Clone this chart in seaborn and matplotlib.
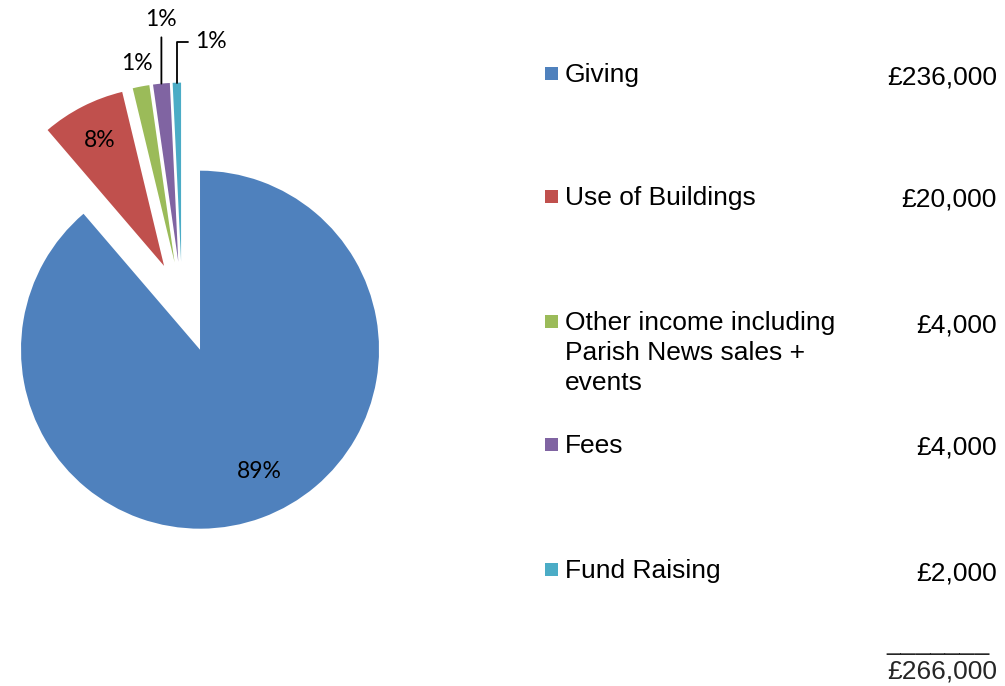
import numpy as np
import matplotlib
matplotlib.use("Agg")
import matplotlib.pyplot as plt
import seaborn as sns
from matplotlib.patches import Rectangle

# dane
categories = ["Giving", "Use of Buildings",
              "Other income including\nParish News sales +\nevents",
              "Fees", "Fund Raising"]
amounts = [236000, 20000, 4000, 4000, 2000]
pct_labels = ["89%", "8%", "1%", "1%", "1%"]
colours = ["#4F81BD", "#C0504D", "#9BBB59", "#8064A2", "#4BACC6"]
explode = [0.29, 0.22, 0.22, 0.22, 0.22]

sns.set_theme(style="white")
plt.rcParams['font.family'] = ['Liberation Sans', 'DejaVu Sans']

W, H = 1005, 686
fig = plt.figure(figsize=(W / 100, H / 100), dpi=100)

# os kola: 1 jednostka = 179 px, srodek w (182, 301) px
R = 179.0
cx, cy = 182.0, 301.0
ax_w = 400
ax = fig.add_axes([0, 0, ax_w / W, 1])

wedges, _ = ax.pie(amounts, colors=sns.color_palette(colours), explode=explode,
                   startangle=90, counterclock=False, radius=1,
                   wedgeprops=dict(linewidth=0))
ax.set_aspect('auto')
ax.set_xlim(-cx / R, (ax_w - cx) / R)
ax.set_ylim(-(H - cy) / R, cy / R)
ax.axis('off')

pct_font = dict(family=['Lato', 'DejaVu Sans'], fontsize=16.5, color='black')


def mid_point(w, frac):
    ang = np.deg2rad((w.theta1 + w.theta2) / 2)
    return (w.center[0] + frac * w.r * np.cos(ang),
            w.center[1] + frac * w.r * np.sin(ang))


# etykiety wewnatrz
x, y = mid_point(wedges[0], 0.76)
ax.text(x + 0.07, y + 0.03, pct_labels[0], ha='center', va='center', **pct_font)
x, y = mid_point(wedges[1], 0.79)
ax.text(x, y, pct_labels[1], ha='center', va='center', **pct_font)
# zielony - bez linii
x, y = mid_point(wedges[2], 1.13)
ax.text(x, y, pct_labels[2], ha='center', va='center', **pct_font)
# fioletowy - pionowa linia
xa, ya = mid_point(wedges[3], 1.0)
ax.annotate(pct_labels[3], xy=(xa, ya), xytext=(xa, ya + 0.3),
            ha='center', va='bottom', **pct_font,
            arrowprops=dict(arrowstyle='-', color='black', lw=1.3,
                            shrinkA=3, shrinkB=0))
# turkusowy - linia z zalamaniem
xa, ya = mid_point(wedges[4], 1.0)
ax.annotate(pct_labels[4], xy=(xa, ya), xytext=(xa + 0.19, ya + 0.23),
            ha='center', va='center', **pct_font,
            arrowprops=dict(arrowstyle='-', color='black', lw=1.3,
                            shrinkA=3, shrinkB=0,
                            connectionstyle='angle,angleA=0,angleB=90,rad=0'))

# legenda z kwotami po prawej (wspolrzedne w pikselach)
lg = fig.add_axes([0, 0, 1, 1])
lg.set_xlim(0, W)
lg.set_ylim(H, 0)
lg.axis('off')
lg.patch.set_alpha(0)

fs = 19
row_y = [82, 205, 330, 453, 578]
for i, (cat, amt) in enumerate(zip(categories, amounts)):
    y0 = row_y[i]
    lg.add_patch(Rectangle((545, y0 - 15), 13, 13, color=colours[i], lw=0))
    for j, line in enumerate(cat.split("\n")):
        lg.text(565, y0 + 30 * j, line, ha='left', va='baseline',
                fontsize=fs, color='black')
    lg.text(997, y0 + 2, f"£{amt:,}", ha='right', va='baseline',
            fontsize=fs, color='black')

lg.text(990, 650, "_______", ha='right', va='baseline', fontsize=fs)
lg.text(997, 678, f"£{sum(amounts):,}", ha='right', va='baseline', fontsize=fs)

fig.savefig("out.png", dpi=100)
